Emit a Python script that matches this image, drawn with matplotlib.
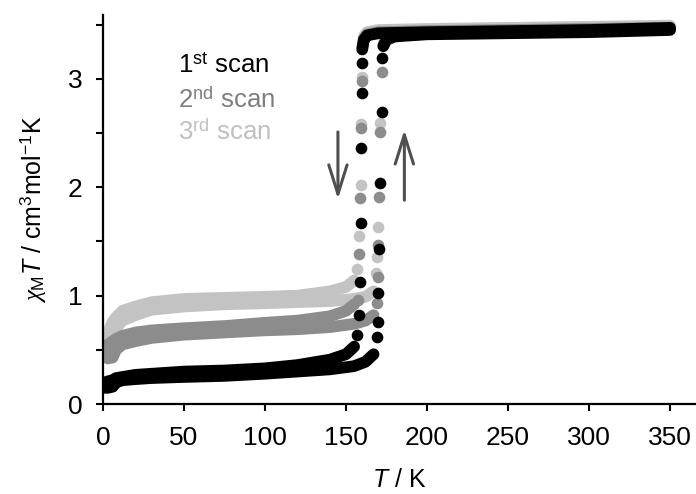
import numpy as np
import matplotlib
matplotlib.use('Agg')
import matplotlib.pyplot as plt
from matplotlib.patches import FancyArrowPatch

plt.rcParams['font.family'] = ['Liberation Sans', 'DejaVu Sans']
plt.rcParams['mathtext.fontset'] = 'custom'
plt.rcParams['mathtext.rm'] = 'Liberation Sans'
plt.rcParams['mathtext.it'] = 'Liberation Serif:italic'
plt.rcParams['mathtext.bf'] = 'Liberation Sans:italic'

# low-spin plateau, cooling and heating branches (T in K, chiT in cm3 mol-1 K)
T_low_cool = [1, 3, 6, 8, 12, 20, 30, 50, 75, 100, 120, 140, 150, 155]
scan1_low_cool = [0.20, 0.21, 0.22, 0.24, 0.25, 0.27, 0.28, 0.30, 0.31, 0.33, 0.36, 0.41, 0.46, 0.53]
scan2_low_cool = [0.50, 0.55, 0.58, 0.60, 0.63, 0.66, 0.68, 0.70, 0.72, 0.75, 0.77, 0.81, 0.86, 0.92]
scan3_low_cool = [0.58, 0.66, 0.76, 0.80, 0.86, 0.90, 0.94, 0.97, 0.98, 0.99, 1.00, 1.04, 1.08, 1.14]

T_low_heat = [1, 3, 6, 8, 12, 20, 30, 50, 75, 100, 120, 140, 155, 162, 167]
scan1_low_heat = [0.15, 0.15, 0.16, 0.20, 0.22, 0.23, 0.24, 0.25, 0.26, 0.28, 0.30, 0.32, 0.35, 0.39, 0.46]
scan2_low_heat = [0.44, 0.42, 0.43, 0.50, 0.55, 0.58, 0.61, 0.64, 0.66, 0.68, 0.69, 0.71, 0.74, 0.77, 0.82]
scan3_low_heat = [0.52, 0.58, 0.66, 0.70, 0.77, 0.82, 0.87, 0.90, 0.92, 0.93, 0.94, 0.95, 0.97, 0.99, 1.04]

# high-spin plateau
T_high_cool = [160, 161, 163, 170, 200, 250, 300, 350]
scan1_high_cool = [3.27, 3.36, 3.40, 3.42, 3.43, 3.44, 3.45, 3.47]
scan2_high_cool = [3.28, 3.37, 3.41, 3.43, 3.44, 3.45, 3.46, 3.47]
scan3_high_cool = [3.30, 3.39, 3.43, 3.45, 3.46, 3.47, 3.48, 3.49]

T_high_heat = [173, 175, 180, 200, 250, 300, 350]
scan1_high_heat = [3.30, 3.36, 3.39, 3.41, 3.42, 3.43, 3.45]
scan2_high_heat = [3.31, 3.37, 3.40, 3.42, 3.43, 3.44, 3.46]
scan3_high_heat = [3.32, 3.38, 3.41, 3.43, 3.44, 3.45, 3.47]

# points measured inside the transition
scan1_cool_T = [160, 160, 159.5, 159, 158.5, 158, 157]
scan1_cool_chi = [3.15, 2.87, 2.36, 1.67, 1.13, 0.82, 0.64]
scan2_cool_T = [160, 159.5, 158.5, 158, 157.5]
scan2_cool_chi = [2.98, 2.55, 1.90, 1.38, 0.96]
scan3_cool_T = [160, 159.5, 159, 158, 157]
scan3_cool_chi = [3.02, 2.58, 2.02, 1.55, 1.25]

scan1_heat_T = [172.5, 172, 171, 170.5, 169.5, 170, 169]
scan1_heat_chi = [3.19, 2.69, 2.04, 1.43, 1.02, 0.76, 0.62]
scan2_heat_T = [172, 171, 170.5, 170, 169.5, 169]
scan2_heat_chi = [3.06, 2.51, 1.91, 1.47, 1.17, 0.93]
scan3_heat_T = [171, 169.5, 169, 168.5]
scan3_heat_chi = [2.59, 1.63, 1.36, 1.21]

labels = [r'1$^{\rm st}$ scan', r'2$^{\rm nd}$ scan', r'3$^{\rm rd}$ scan']
colors = ['#000000', '#8c8c8c', '#c3c3c3']
text_colors = ['#000000', '#7f7f7f', '#c0c0c0']

scans = [
    (scan1_low_cool, scan1_low_heat, scan1_high_cool, scan1_high_heat,
     scan1_cool_T, scan1_cool_chi, scan1_heat_T, scan1_heat_chi),
    (scan2_low_cool, scan2_low_heat, scan2_high_cool, scan2_high_heat,
     scan2_cool_T, scan2_cool_chi, scan2_heat_T, scan2_heat_chi),
    (scan3_low_cool, scan3_low_heat, scan3_high_cool, scan3_high_heat,
     scan3_cool_T, scan3_cool_chi, scan3_heat_T, scan3_heat_chi),
]

fig = plt.figure(figsize=(6.96, 4.94), dpi=100)
ax = fig.add_axes([0.148, 0.182, 0.852, 0.788])

ms = 8.4
# draw the light scans first so the black one sits on top
for i in [2, 1, 0]:
    lc, lh, hc, hh, cT, cC, hT, hC = scans[i]
    c = colors[i]
    z = 3 - i
    for T, y in [(T_low_cool, lc), (T_low_heat, lh), (T_high_cool, hc), (T_high_heat, hh)]:
        ax.plot(T, y, '-', color=c, lw=ms, solid_capstyle='round',
                solid_joinstyle='round', zorder=z)
    ax.plot(cT, cC, 'o', color=c, ms=ms, mec='none', zorder=z)
    ax.plot(hT, hC, 'o', color=c, ms=ms, mec='none', zorder=z)

# legend written as coloured text
for lab, tc, yy in zip(labels, text_colors, [3.05, 2.73, 2.44]):
    ax.text(46, yy, lab, color=tc, fontsize=18.5, va='baseline', ha='left')

# cooling / heating arrows
for x0, y0, y1 in [(145, 2.51, 1.89), (186, 1.88, 2.53)]:
    arr = FancyArrowPatch((x0, y0), (x0, y1),
                          arrowstyle='->,head_length=1.05,head_width=0.33',
                          mutation_scale=20, color='#505050', lw=2.2,
                          shrinkA=0, shrinkB=0, zorder=5)
    ax.add_patch(arr)

ax.set_xlim(0, 366)
ax.set_ylim(0, 3.59)
ax.set_xticks([0, 50, 100, 150, 200, 250, 300, 350])
ax.set_yticks([0, 1, 2, 3])
ax.set_yticks([0.5, 1.5, 2.5, 3.5], minor=True)

for s in ['top', 'right']:
    ax.spines[s].set_visible(False)
for s in ['left', 'bottom']:
    ax.spines[s].set_linewidth(1.6)

ax.tick_params(which='both', direction='out', length=5, width=1.5)
ax.tick_params(axis='x', labelsize=19, pad=11)
ax.tick_params(axis='y', labelsize=19, pad=10)

ax.set_xlabel(r'$\mathbf{T}$ / K', fontsize=18)
ax.set_ylabel(r'$\chi_{\rm M}\mathbf{T}$ / cm$^{3}$mol$^{-1}$K', fontsize=18)
ax.xaxis.set_label_coords(0.5, -0.163)
ax.yaxis.set_label_coords(-0.092, 0.5)

fig.savefig('out.png', dpi=100)
